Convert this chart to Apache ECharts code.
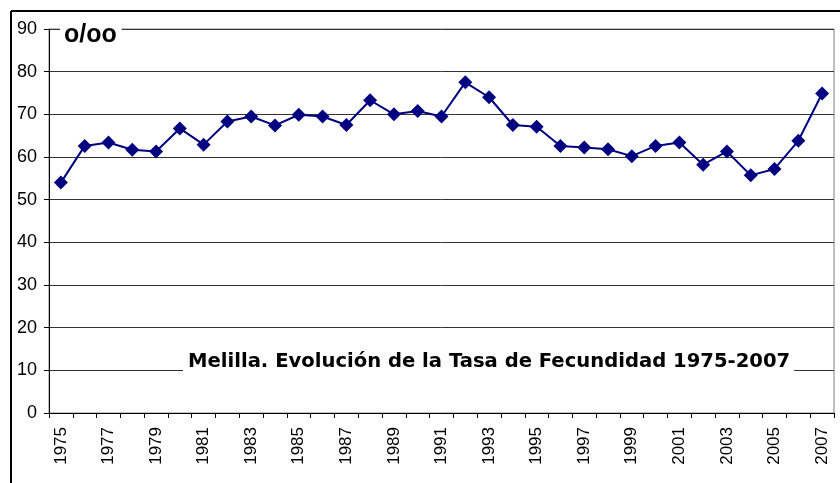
<!DOCTYPE html>
<html>
<head>
<meta charset="utf-8">
<script src="https://cdn.jsdelivr.net/npm/echarts@6/dist/echarts.min.js"></script>
<style>
  html, body { margin: 0; padding: 0; background: #fff; }
  #main { width: 840px; height: 483px; }
</style>
</head>
<body>
<div id="main"></div>
<script>
// años y tasa de fecundidad (o/oo)
var years = ['1975','1976','1977','1978','1979','1980','1981','1982','1983','1984',
  '1985','1986','1987','1988','1989','1990','1991','1992','1993','1994',
  '1995','1996','1997','1998','1999','2000','2001','2002','2003','2004',
  '2005','2006','2007'];
var tasa = [54.0, 62.6, 63.4, 61.7, 61.3, 66.7, 62.9, 68.3, 69.5, 67.4,
  69.9, 69.5, 67.5, 73.3, 70.0, 70.8, 69.5, 77.5, 74.0, 67.5,
  67.1, 62.6, 62.2, 61.8, 60.2, 62.6, 63.4, 58.2, 61.3, 55.7,
  57.2, 63.8, 74.9];
var yMin = 0, yMax = 90, yStep = 10;

var chart = echarts.init(document.getElementById('main'));
var font = "'Liberation Sans', Arial, sans-serif";

var option = {
  backgroundColor: '#fff',
  animation: false,
  title: [
    {
      text: 'o/oo',
      left: 60,
      top: 21,
      backgroundColor: '#fff',
      padding: [2, 5, 2, 4],
      textStyle: { fontFamily: font, fontSize: 25, fontWeight: 'bold', color: '#000' }
    },
    {
      text: 'Melilla. Evolución de la Tasa de Fecundidad 1975-2007',
      left: 183,
      top: 350,
      backgroundColor: '#fff',
      padding: [2, 4, 2, 5],
      textStyle: { fontFamily: "'DejaVu Sans', sans-serif", fontSize: 19.6, fontWeight: 'bold', color: '#000' }
    }
  ],
  grid: {
    left: 49, right: 6, top: 29, bottom: 70,
    show: true, borderColor: '#808080', borderWidth: 1
  },
  xAxis: {
    type: 'category',
    data: years,
    boundaryGap: true,
    axisLine: { lineStyle: { color: '#000', width: 1 } },
    axisTick: { show: true, interval: 0, length: 5, lineStyle: { color: '#000' } },
    axisLabel: {
      interval: 1, rotate: 90, margin: 14,
      fontFamily: font, fontSize: 17, color: '#000'
    },
    splitLine: { show: false }
  },
  yAxis: {
    type: 'value',
    min: yMin, max: yMax, interval: yStep,
    axisLine: { show: true, lineStyle: { color: '#000', width: 1 } },
    axisTick: { show: true, length: 5, lineStyle: { color: '#000' } },
    axisLabel: { margin: 12, fontFamily: font, fontSize: 18, color: '#000' },
    splitLine: { show: true, lineStyle: { color: '#333', width: 1 } }
  },
  series: [{
    type: 'line',
    data: tasa,
    symbol: 'diamond',
    symbolSize: 14,
    lineStyle: { color: '#000080', width: 2 },
    itemStyle: { color: '#000080' },
    z: 5
  }],
  graphic: [
    { type: 'line', shape: { x1: 11, y1: 11, x2: 840, y2: 11 }, style: { stroke: '#000', lineWidth: 2 }, silent: true },
    { type: 'line', shape: { x1: 11, y1: 11, x2: 11, y2: 483 }, style: { stroke: '#000', lineWidth: 2 }, silent: true }
  ]
};
chart.setOption(option);
</script>
</body>
</html>
